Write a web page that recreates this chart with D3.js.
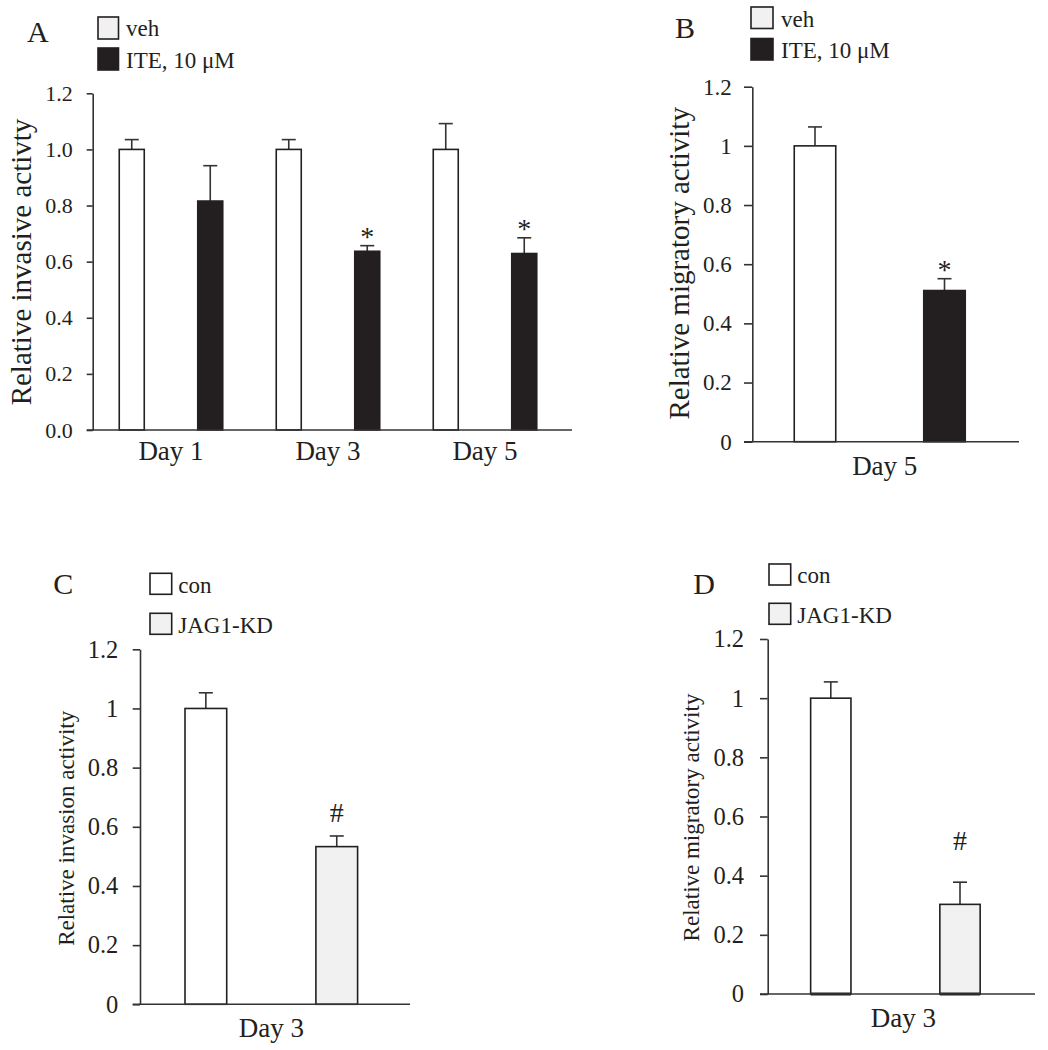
<!DOCTYPE html>
<html><head><meta charset="utf-8">
<script src="https://cdn.jsdelivr.net/npm/d3@7"></script>
<style>html,body{margin:0;padding:0;background:#fff;}</style>
</head><body>
<svg id="chart" width="1048" height="1050"></svg>
<script>
// ---------- DATA ----------
const yTicks = [0, 0.2, 0.4, 0.6, 0.8, 1.0, 1.2];

// Panel A
const daysA = ["Day 1", "Day 3", "Day 5"];
const seriesA = ["veh", "ITE, 10 μM"];
const vehA = [1.0, 1.0, 1.0];
const vehErrA = [0.035, 0.035, 0.092];
const iteA = [0.816, 0.637, 0.629];
const iteErrA = [0.126, 0.02, 0.056];
const iteMarkA = ["", "*", "*"];

// Panel B
const daysB = ["Day 5"];
const seriesB = ["veh", "ITE, 10 μM"];
const vehB = [1.0];
const vehErrB = [0.064];
const iteB = [0.511];
const iteErrB = [0.04];
const iteMarkB = ["*"];

// Panel C
const daysC = ["Day 3"];
const seriesC = ["con", "JAG1-KD"];
const conC = [1.0];
const conErrC = [0.053];
const kdC = [0.533];
const kdErrC = [0.036];
const kdMarkC = ["#"];

// Panel D
const daysD = ["Day 3"];
const seriesD = ["con", "JAG1-KD"];
const conD = [1.0];
const conErrD = [0.055];
const kdD = [0.303];
const kdErrD = [0.075];
const kdMarkD = ["#"];

// ---------- STYLE ----------
const FONT = '"Liberation Serif","Times New Roman",Times,serif';
const INK = "#231f20";
const AXIS = "#333333";
const BLACK = "#231f20";
const LIGHT = "#f1f1f1";

const svg = d3.select("#chart");

function drawPanel(p) {
  const g = svg.append("g");
  const y = d3.scaleLinear().domain([0, 1.2]).range([p.y0, p.y1]);
  const xg = d3.scaleBand().domain(p.categories).range(p.groupRange).padding(0);
  const xs = d3.scaleBand().domain(p.series.map(s => s.name))
    .range([-p.barStep / 2 - p.barW / 2, p.barStep / 2 + p.barW / 2])
    .paddingInner(1 - p.barW / p.barStep).paddingOuter(0);
  const gc = c => xg(c) + xg.bandwidth() / 2;

  // bars
  p.series.forEach(s => {
    p.categories.forEach((c, i) => {
      const x = gc(c) + xs(s.name);
      const v = s.values[i], e = s.errors[i];
      g.append("line").attr("x1", x + p.barW / 2).attr("x2", x + p.barW / 2)
        .attr("y1", y(v)).attr("y2", y(v + e))
        .attr("stroke", AXIS).attr("stroke-width", 1.6);
      g.append("line").attr("x1", x + p.barW / 2 - 7).attr("x2", x + p.barW / 2 + 7)
        .attr("y1", y(v + e)).attr("y2", y(v + e))
        .attr("stroke", AXIS).attr("stroke-width", 1.6);
      g.append("rect").attr("x", x).attr("width", p.barW)
        .attr("y", y(v)).attr("height", y(0) - y(v))
        .attr("fill", s.fill).attr("stroke", INK).attr("stroke-width", 1.6);
      if (p.thickBase) {
        g.append("line").attr("x1", x).attr("x2", x + p.barW)
          .attr("y1", y(0)).attr("y2", y(0))
          .attr("stroke", INK).attr("stroke-width", 3.2);
      }
      const m = s.marks ? s.marks[i] : "";
      if (m) {
        g.append("text").attr("x", x + p.barW / 2).attr("y", y(v + e) - p.markGap)
          .attr("text-anchor", "middle").attr("font-family", FONT)
          .attr("font-size", p.markFont).attr("fill", INK).text(m);
      }
    });
  });

  // y axis
  const ax = g.append("g").attr("transform", `translate(${p.axisX},0)`)
    .call(d3.axisLeft(y).tickValues(yTicks).tickFormat(p.fmt)
      .tickSize(p.tickLen).tickSizeOuter(0).tickPadding(p.tickPad));
  ax.select(".domain").attr("stroke", AXIS).attr("stroke-width", 1.6);
  ax.selectAll(".tick line").attr("stroke", AXIS).attr("stroke-width", 1.6);
  ax.selectAll(".tick text").attr("font-family", FONT).attr("font-size", p.tickFont)
    .attr("fill", INK);

  // x axis line
  g.append("line").attr("x1", p.axisX - p.tickLen).attr("x2", p.xEnd)
    .attr("y1", y(0)).attr("y2", y(0)).attr("stroke", AXIS).attr("stroke-width", 1.6);

  // category labels
  p.categories.forEach(c => {
    g.append("text").attr("x", gc(c) + (p.labelDx || 0)).attr("y", p.dayBaseline)
      .attr("text-anchor", "middle").attr("font-family", FONT)
      .attr("font-size", p.dayFont).attr("fill", INK).text(c);
  });

  // y title
  g.append("text").attr("transform", `translate(${p.titleX},${p.titleY}) rotate(-90)`)
    .attr("text-anchor", "middle").attr("font-family", FONT)
    .attr("font-size", p.titleFont).attr("fill", INK).text(p.yTitle);

  // panel letter
  g.append("text").attr("x", p.letterX).attr("y", p.letterY)
    .attr("font-family", FONT).attr("font-size", 30).attr("fill", INK).text(p.letter);

  // legend
  p.series.forEach((s, i) => {
    g.append("rect").attr("x", p.legX).attr("y", p.legTops[i])
      .attr("width", p.legW).attr("height", p.legH)
      .attr("fill", s.legendFill).attr("stroke", INK).attr("stroke-width", 1.6);
    g.append("text").attr("x", p.legTextX).attr("y", p.legBase[i])
      .attr("font-family", FONT).attr("font-size", p.legFont).attr("fill", INK).text(s.name);
  });
}

const fmt1 = d3.format(".1f");
const fmtG = d => String(+d.toFixed(1));

drawPanel({
  letter: "A", letterX: 27, letterY: 41.7,
  categories: daysA,
  series: [
    { name: seriesA[0], values: vehA, errors: vehErrA, fill: "#ffffff", legendFill: LIGHT },
    { name: seriesA[1], values: iteA, errors: iteErrA, marks: iteMarkA, fill: BLACK, legendFill: BLACK }
  ],
  yTitle: "Relative invasive activty", fmt: fmt1,
  y0: 430, y1: 93.3, axisX: 92.7, tickLen: 6, tickPad: 14, tickFont: 22, xEnd: 572,
  groupRange: [92.5, 563.5], barStep: 78.5, barW: 25,
  titleX: 31, titleY: 262, titleFont: 29,
  dayFont: 27, dayBaseline: 459.5,
  markFont: 28, markGap: 0,
  legX: 98, legW: 20.5, legH: 22, legTops: [17, 48], legTextX: 126, legBase: [36, 68.3], legFont: 23
});

drawPanel({
  letter: "B", letterX: 675, letterY: 38.3,
  categories: daysB,
  series: [
    { name: seriesB[0], values: vehB, errors: vehErrB, fill: "#ffffff", legendFill: LIGHT },
    { name: seriesB[1], values: iteB, errors: iteErrB, marks: iteMarkB, fill: BLACK, legendFill: BLACK }
  ],
  yTitle: "Relative migratory activity", fmt: fmtG,
  y0: 441.7, y1: 86.7, axisX: 752.3, tickLen: 8.3, tickPad: 12.3, tickFont: 23, xEnd: 1019,
  groupRange: [752.3, 1007.2], barStep: 129.5, barW: 41.5, labelDx: 5,
  titleX: 689, titleY: 263.3, titleFont: 29,
  dayFont: 27, dayBaseline: 475,
  markFont: 28, markGap: 0,
  legX: 751, legW: 22, legH: 21.5, legTops: [7, 38.5], legTextX: 781, legBase: [26.7, 58.3], legFont: 23
});

drawPanel({
  letter: "C", letterX: 53.3, letterY: 594.3,
  categories: daysC,
  series: [
    { name: seriesC[0], values: conC, errors: conErrC, fill: "#ffffff", legendFill: "#ffffff" },
    { name: seriesC[1], values: kdC, errors: kdErrC, marks: kdMarkC, fill: LIGHT, legendFill: LIGHT }
  ],
  yTitle: "Relative invasion activity", fmt: fmtG,
  y0: 1004.3, y1: 649.3, axisX: 140, tickLen: 7.3, tickPad: 14.4, tickFont: 24.5, xEnd: 410,
  groupRange: [140, 402.6], barStep: 130.9, barW: 41.7,
  titleX: 73.5, titleY: 828.3, titleFont: 23,
  dayFont: 27, dayBaseline: 1036.7,
  markFont: 28, markGap: 14,
  legX: 150, legW: 21.7, legH: 21, legTops: [573.3, 613.3], legTextX: 178.3, legBase: [593.3, 632.7], legFont: 23
});

drawPanel({
  letter: "D", letterX: 693.3, letterY: 594.3,
  categories: daysD,
  series: [
    { name: seriesD[0], values: conD, errors: conErrD, fill: "#ffffff", legendFill: "#ffffff" },
    { name: seriesD[1], values: kdD, errors: kdErrD, marks: kdMarkD, fill: LIGHT, legendFill: LIGHT }
  ],
  yTitle: "Relative migratory activity", fmt: fmtG,
  y0: 994, y1: 639, axisX: 767.7, tickLen: 7.7, tickPad: 16, tickFont: 24.5, xEnd: 1035,
  groupRange: [767.7, 1023.1], barStep: 129.2, barW: 40.3, labelDx: 8, thickBase: true,
  titleX: 698.5, titleY: 817.5, titleFont: 23,
  dayFont: 27, dayBaseline: 1026.7,
  markFont: 28, markGap: 32,
  legX: 769, legW: 21.7, legH: 21, legTops: [564, 603.3], legTextX: 797.3, legBase: [583.3, 622.7], legFont: 23
});
</script>
</body></html>
